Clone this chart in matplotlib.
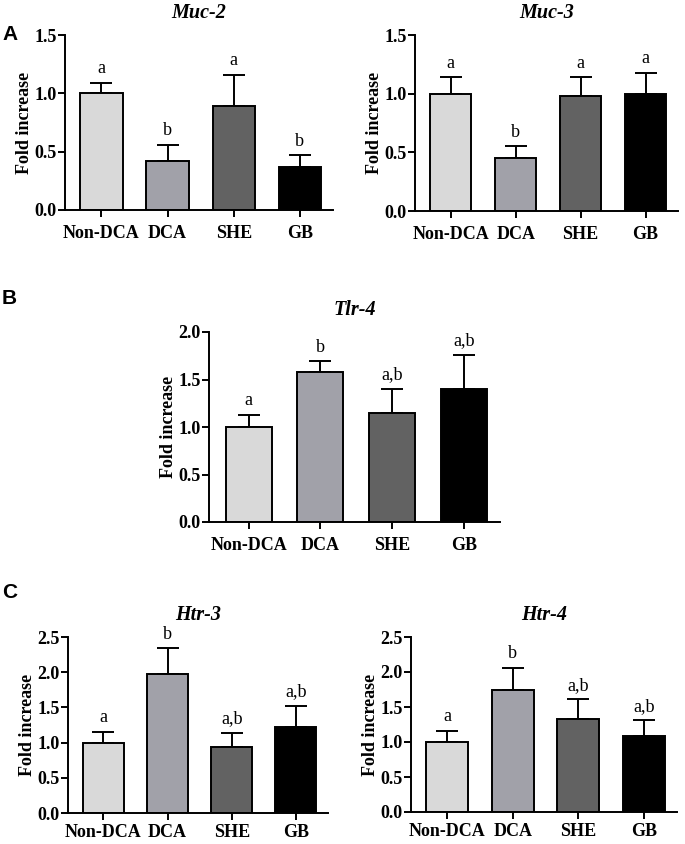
import matplotlib
matplotlib.use("Agg")
import matplotlib.pyplot as plt

# groups and colours
groups = ["Non-DCA", "DCA", "SHE", "GB"]
bar_colors = ["#d9d9d9", "#a1a1a9", "#626262", "#000000"]

# values (mean, upper SEM, letters)
muc2_mean = [1.00, 0.42, 0.89, 0.37]
muc2_err = [0.09, 0.14, 0.27, 0.10]
muc2_sig = ["a", "b", "a", "b"]

muc3_mean = [1.00, 0.45, 0.98, 1.00]
muc3_err = [0.14, 0.10, 0.16, 0.18]
muc3_sig = ["a", "b", "a", "a"]

tlr4_mean = [1.00, 1.58, 1.15, 1.40]
tlr4_err = [0.13, 0.11, 0.25, 0.36]
tlr4_sig = ["a", "b", "a,b", "a,b"]

htr3_mean = [1.00, 1.97, 0.94, 1.22]
htr3_err = [0.15, 0.37, 0.20, 0.30]
htr3_sig = ["a", "b", "a,b", "a,b"]

htr4_mean = [1.00, 1.74, 1.33, 1.09]
htr4_err = [0.16, 0.32, 0.28, 0.22]
htr4_sig = ["a", "b", "a,b", "a,b"]

W, H = 685, 844
SERIF = ["Liberation Serif", "DejaVu Serif"]


def px_axes(fig, left, right, top, bottom):
    return fig.add_axes([left / W, 1 - bottom / H, (right - left) / W, (bottom - top) / H])


def draw_panel(ax, title, means, errs, sig, ymax, yticks, width_px, xpad=6):
    x = list(range(len(groups)))
    ax.errorbar(x, means, yerr=[[0] * len(errs), errs], fmt="none", ecolor="black",
                elinewidth=1.4, capsize=8, capthick=1.4, zorder=1)
    ax.bar(x, means, width=0.64, color=bar_colors, edgecolor="black", linewidth=1.4, zorder=2)
    for xi, m, e, s in zip(x, means, errs, sig):
        ax.annotate(s, (xi, m + e), xytext=(0, 4), textcoords="offset points",
                    ha="center", va="bottom", fontsize=13, family=SERIF)
    ax.set_xlim(-0.55, 3.5)
    ax.set_ylim(0, ymax)
    ax.set_yticks(yticks)
    ax.set_yticklabels([f"{t:.1f}" for t in yticks])
    ax.set_xticks(x)
    ax.set_xticklabels(groups)
    for lbl in ax.get_xticklabels() + ax.get_yticklabels():
        lbl.set_family(SERIF)
        lbl.set_fontweight("bold")
        lbl.set_fontsize(13)
    ax.spines["top"].set_visible(False)
    ax.spines["right"].set_visible(False)
    ax.spines["left"].set_linewidth(1.4)
    ax.spines["bottom"].set_linewidth(1.4)
    ax.tick_params(axis="y", direction="out", length=5, width=1.4, pad=1)
    ax.tick_params(axis="x", direction="out", length=5, width=1.4, pad=xpad)
    ax.set_ylabel("Fold increase", family=SERIF, fontweight="bold", fontsize=13)
    ax.yaxis.set_label_coords(-32 / width_px, 0.5)
    ax.set_title(title, family=SERIF, fontweight="bold", style="italic", fontsize=14.5, pad=12)


fig = plt.figure(figsize=(W / 100, H / 100), dpi=100)

ax = px_axes(fig, 65, 333, 35, 210)
draw_panel(ax, "Muc-2", muc2_mean, muc2_err, muc2_sig, 1.5, [0, 0.5, 1.0, 1.5], 268)

ax = px_axes(fig, 415, 678, 35, 211)
draw_panel(ax, "Muc-3", muc3_mean, muc3_err, muc3_sig, 1.5, [0, 0.5, 1.0, 1.5], 263)

ax = px_axes(fig, 209, 500, 332, 522)
draw_panel(ax, "Tlr-4", tlr4_mean, tlr4_err, tlr4_sig, 2.0, [0, 0.5, 1.0, 1.5, 2.0], 291)

ax = px_axes(fig, 68, 328, 637, 813)
draw_panel(ax, "Htr-3", htr3_mean, htr3_err, htr3_sig, 2.5, [0, 0.5, 1.0, 1.5, 2.0, 2.5], 260, xpad=3)

ax = px_axes(fig, 411, 677, 637, 812)
draw_panel(ax, "Htr-4", htr4_mean, htr4_err, htr4_sig, 2.5, [0, 0.5, 1.0, 1.5, 2.0, 2.5], 266, xpad=3)

# panel letters
for letter, ypx in [("A", 34), ("B", 299), ("C", 593)]:
    fig.text(2 / W, 1 - ypx / H, letter, family="Liberation Sans", fontweight="bold",
             fontsize=15, va="center", ha="left")

fig.savefig("out.png", dpi=100)
